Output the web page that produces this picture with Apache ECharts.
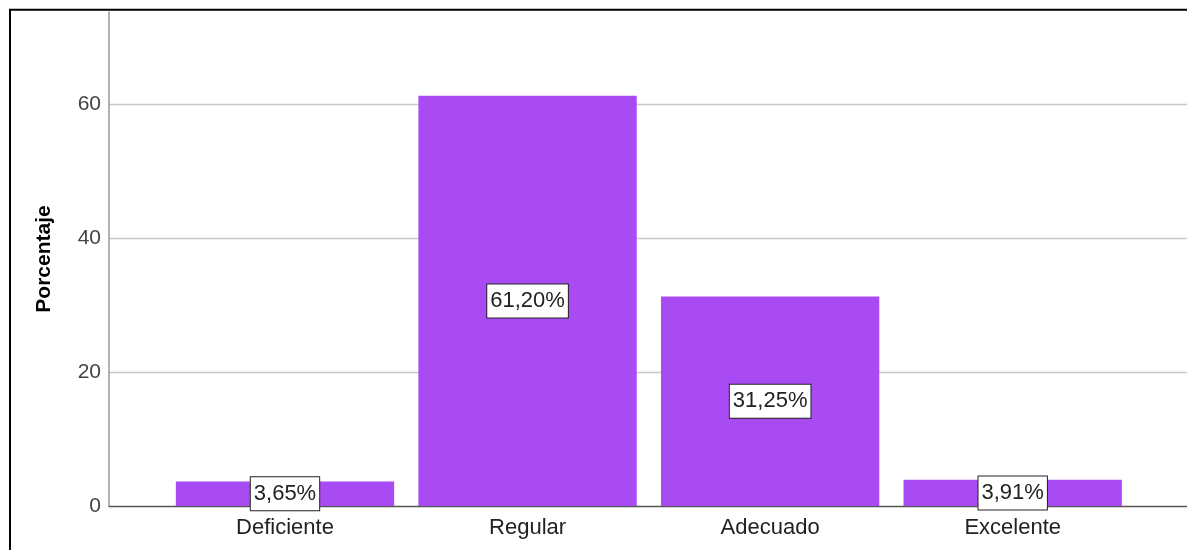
<!DOCTYPE html>
<html>
<head>
<meta charset="utf-8">
<script src="https://cdn.jsdelivr.net/npm/echarts@6/dist/echarts.min.js"></script>
<style>
  html, body { margin: 0; padding: 0; background: #fff; }
  #chart { width: 1187px; height: 550px; }
</style>
</head>
<body>
<div id="chart"></div>
<script>
// datos
var categorias = ["Deficiente", "Regular", "Adecuado", "Excelente"];
var porcentajes = [3.65, 61.20, 31.25, 3.91];
var ejeMax = 73.7;
var ejeIntervalo = 20;

var fuente = "Liberation Sans";
var myChart = echarts.init(document.getElementById("chart"));

myChart.setOption({
  animation: false,
  backgroundColor: "#fff",
  graphic: [
    {
      type: "rect",
      shape: { x: 10, y: 9.7, width: 1300, height: 700 },
      style: { fill: null, stroke: "#000", lineWidth: 2 },
      silent: true,
      z: 100
    }
  ],
  grid: [
    { left: 163.7, right: 53, top: 12, bottom: 44 }, // barras
    { left: 109, right: 0, top: 12, bottom: 44 }     // ejes y lineas
  ],
  xAxis: [
    {
      type: "category",
      gridIndex: 0,
      data: categorias,
      axisLine: { show: false },
      axisTick: { show: false },
      axisLabel: {
        color: "#222",
        fontFamily: fuente,
        fontSize: 22,
        margin: 11
      }
    },
    {
      type: "value",
      gridIndex: 1,
      min: 0,
      max: 1,
      axisLine: { show: true, lineStyle: { color: "#555", width: 1.3 } },
      axisTick: { show: false },
      axisLabel: { show: false },
      splitLine: { show: false }
    }
  ],
  yAxis: [
    {
      type: "value",
      gridIndex: 0,
      min: 0,
      max: ejeMax,
      show: false
    },
    {
      type: "value",
      gridIndex: 1,
      min: 0,
      max: ejeMax,
      interval: ejeIntervalo,
      name: "Porcentaje",
      nameLocation: "middle",
      nameRotate: 90,
      nameGap: 54,
      nameTextStyle: {
        color: "#000",
        fontFamily: fuente,
        fontSize: 21,
        fontWeight: "bold"
      },
      axisLine: { show: true, lineStyle: { color: "#999", width: 1.5 } },
      axisTick: { show: false },
      axisLabel: {
        color: "#444",
        fontFamily: fuente,
        fontSize: 21,
        margin: 8,
        showMaxLabel: false,
        formatter: function (v) {
          return v % ejeIntervalo === 0 ? String(v) : "";
        }
      },
      splitLine: {
        show: true,
        showMinLine: false,
        showMaxLine: false,
        lineStyle: { color: "#c8c8c8", width: 1.3 }
      }
    }
  ],
  series: [
    {
      type: "bar",
      xAxisIndex: 0,
      yAxisIndex: 0,
      data: porcentajes,
      barCategoryGap: "10%",
      itemStyle: { color: "#a94bf3" },
      label: {
        show: true,
        position: "inside",
        formatter: function (p) {
          return p.value.toFixed(2).replace(".", ",") + "%";
        },
        color: "#222",
        fontFamily: fuente,
        fontSize: 22,
        backgroundColor: "#fff",
        borderColor: "#222",
        borderWidth: 1,
        padding: [6, 3, 5, 3]
      }
    }
  ]
});
</script>
</body>
</html>
